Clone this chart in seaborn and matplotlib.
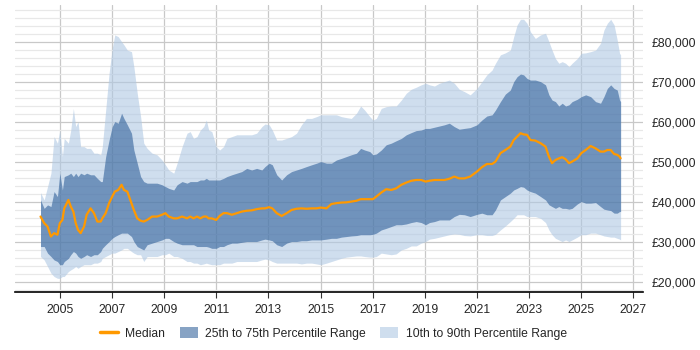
import numpy as np
import pandas as pd
import seaborn as sns
from matplotlib import pyplot as plt
from matplotlib.ticker import MultipleLocator, FuncFormatter
from matplotlib.lines import Line2D
from matplotlib.patches import Patch

# decimal years
year = [2004.26, 2004.40, 2004.53, 2004.66, 2004.78, 2004.91, 2005.00, 2005.10, 2005.17, 2005.33,
        2005.42, 2005.52, 2005.61, 2005.70, 2005.80, 2005.93, 2006.03, 2006.18, 2006.31, 2006.44,
        2006.57, 2006.63, 2006.76, 2006.89, 2007.01, 2007.11, 2007.24, 2007.37, 2007.46, 2007.59,
        2007.75, 2007.84, 2007.97, 2008.10, 2008.22, 2008.35, 2008.54, 2008.73, 2008.92, 2009.05,
        2009.18, 2009.37, 2009.50, 2009.69, 2009.88, 2010.00, 2010.13, 2010.26, 2010.39, 2010.52,
        2010.62, 2010.71, 2010.83, 2011.00, 2011.13, 2011.28, 2011.41, 2011.60, 2011.79, 2011.98,
        2012.17, 2012.36, 2012.55, 2012.75, 2012.87, 2013.03, 2013.15, 2013.32, 2013.51, 2013.70,
        2013.89, 2014.08, 2014.27, 2014.46, 2014.66, 2014.85, 2015.01, 2015.23, 2015.42, 2015.61,
        2015.80, 2015.99, 2016.18, 2016.38, 2016.54, 2016.69, 2016.89, 2017.01, 2017.14, 2017.33,
        2017.52, 2017.71, 2017.90, 2018.10, 2018.29, 2018.48, 2018.67, 2018.86, 2019.03, 2019.18,
        2019.37, 2019.56, 2019.75, 2019.94, 2020.13, 2020.32, 2020.52, 2020.74, 2021.00, 2021.19,
        2021.38, 2021.58, 2021.71, 2021.90, 2022.09, 2022.28, 2022.41, 2022.54, 2022.67, 2022.79,
        2022.92, 2023.05, 2023.24, 2023.44, 2023.63, 2023.76, 2023.88, 2024.01, 2024.14, 2024.27,
        2024.40, 2024.53, 2024.65, 2024.85, 2025.00, 2025.17, 2025.36, 2025.55, 2025.74, 2025.87,
        2026.00, 2026.13, 2026.26, 2026.38, 2026.47, 2026.51]

p90 = [42250, 40400, 43750, 47100, 56250, 54600, 57900, 51250, 55800, 54600,
       57900, 63300, 58750, 60000, 53750, 53750, 53300, 53300, 52100, 52100,
       51700, 53750, 62900, 72100, 78300, 81700, 81250, 80000, 79200, 77900,
       77500, 73750, 67100, 61250, 54600, 53300, 52100, 51700, 50400, 49200,
       47900, 47100, 49600, 53750, 57100, 57500, 55800, 56250, 57900, 58750,
       60400, 57900, 57500, 53750, 52900, 53750, 55800, 56250, 56700, 56700,
       56700, 56700, 57100, 58750, 59400, 59200, 57900, 55400, 55400, 55800,
       56250, 57100, 59200, 60800, 60800, 61250, 61700, 61700, 61700, 61700,
       61250, 61000, 60800, 62100, 63900, 62900, 61250, 60400, 60800, 63300,
       63750, 63900, 63900, 65400, 67100, 68100, 68600, 69200, 69600, 69200,
       68900, 69600, 70000, 70400, 69600, 68100, 67500, 66700, 68300, 70000,
       71700, 72900, 74600, 76700, 77200, 77900, 81250, 84200, 85600, 85600,
       84600, 82500, 80800, 81700, 82100, 80000, 77900, 75800, 74600, 75000,
       74600, 73750, 74600, 75800, 77100, 77200, 77500, 77900, 79600, 82900,
       84600, 85600, 84200, 80400, 77100, 76700]

p75 = [40400, 38300, 39170, 38750, 42500, 41250, 47100, 42900, 46250, 46700,
       47100, 46250, 47100, 46250, 47100, 46700, 47100, 46700, 46700, 45800,
       45000, 45000, 51250, 55400, 58750, 60000, 59600, 62100, 60800, 59200,
       57100, 52900, 49600, 46250, 45000, 44600, 44600, 44600, 44200, 43750,
       43300, 42900, 44200, 45000, 44600, 45000, 45000, 45000, 45400, 45400,
       45800, 45400, 45400, 45400, 45400, 45800, 46250, 46700, 47100, 47500,
       48300, 47900, 48300, 47900, 48750, 49600, 49200, 46700, 45400, 46700,
       47500, 47900, 48300, 48750, 49200, 49600, 50000, 49600, 49600, 50400,
       50800, 51250, 51700, 52100, 53300, 52900, 52500, 51700, 51900, 52900,
       54200, 54600, 55200, 55800, 56700, 57250, 57750, 57900, 58300, 58300,
       58600, 58900, 59200, 59600, 58750, 58100, 58300, 58500, 59200, 60400,
       61400, 61700, 62900, 65000, 66900, 67900, 70000, 71250, 71900, 71700,
       70800, 70400, 70400, 70000, 69200, 66700, 65400, 65000, 63900, 64600,
       63900, 64200, 65000, 65600, 66250, 66700, 66250, 65000, 64600, 66250,
       68300, 69200, 68300, 67900, 65400, 65000]

median = [36250, 34600, 33750, 31250, 32100, 31700, 34600, 35400, 38300, 40400,
          38750, 37500, 34600, 32900, 32100, 33750, 36700, 38300, 37100, 35000,
          35000, 35800, 37100, 39600, 41250, 42500, 42900, 44200, 42900, 42500,
          39600, 37900, 35800, 35200, 35000, 35400, 36250, 36250, 36700, 37100,
          36250, 35800, 35800, 36250, 35800, 36250, 35800, 36250, 35800, 36250,
          36250, 35800, 35800, 35400, 36400, 37100, 37100, 36700, 37100, 37500,
          37700, 37800, 38100, 38300, 38300, 38600, 38300, 37100, 36400, 37100,
          37900, 38200, 38300, 38200, 38300, 38300, 38500, 38300, 39400, 39600,
          39750, 39800, 40000, 40200, 40600, 40600, 40600, 40600, 41250, 42250,
          43100, 42900, 43300, 44200, 44750, 45200, 45400, 45400, 45000, 45200,
          45400, 45400, 45400, 45700, 46250, 45800, 45800, 46250, 47500, 48600,
          49400, 49400, 50000, 52100, 52900, 53750, 55400, 56250, 57100, 56800,
          56700, 55400, 55250, 54600, 53750, 51250, 49600, 50400, 50800, 51100,
          50600, 49600, 50000, 50800, 52100, 52900, 53900, 53300, 52500, 52500,
          52900, 52900, 51900, 51700, 51250, 50800]

p25 = [28750, 28750, 27100, 26250, 25400, 25000, 24200, 24200, 25000, 25800,
       26700, 27500, 27100, 26250, 25800, 26250, 26700, 26250, 26700, 26700,
       27500, 28300, 29200, 30000, 30800, 31250, 31700, 32100, 32100, 32100,
       31250, 30000, 28750, 28300, 27900, 29200, 29600, 30000, 30400, 30800,
       30800, 30000, 29600, 29200, 29200, 29200, 29200, 28750, 28750, 28750,
       28750, 28600, 28300, 28300, 28750, 28750, 29200, 29600, 29600, 29800,
       30000, 30000, 30000, 30400, 30600, 30400, 30200, 29200, 28750, 29600,
       30000, 30000, 30200, 30200, 30400, 30400, 30400, 30600, 30800, 30800,
       31100, 31250, 31400, 31500, 31700, 31700, 31700, 31800, 32100, 32900,
       33300, 33750, 34200, 34200, 34400, 34750, 35000, 34750, 34200, 34750,
       35000, 35400, 35400, 35400, 36250, 36800, 36700, 36250, 36800, 37100,
       36700, 36700, 37900, 40400, 41250, 42100, 42900, 43300, 43750, 43600,
       42900, 42500, 42100, 41250, 40400, 39200, 38750, 38300, 38750, 38300,
       38300, 38100, 38300, 39400, 40000, 39600, 39600, 39750, 38750, 38100,
       37900, 37750, 37100, 37100, 37500, 37500]

p10 = [26250, 25400, 23750, 22100, 21250, 20800, 20800, 21250, 21250, 22500,
       22900, 23300, 23750, 23300, 23750, 24200, 24200, 24200, 24600, 24600,
       25000, 25800, 26250, 26700, 27100, 27100, 27500, 27900, 28300, 28300,
       27500, 27100, 26700, 26700, 25000, 26250, 26250, 26250, 26700, 26700,
       27100, 26250, 26250, 25800, 25000, 25000, 24600, 24600, 24200, 24400,
       24600, 24400, 24200, 24200, 24200, 24600, 24600, 24600, 25000, 25000,
       25000, 25000, 25000, 25400, 25600, 25400, 25000, 24600, 24600, 24600,
       24600, 24600, 24400, 24600, 24600, 24400, 24200, 24600, 25000, 25400,
       25800, 26100, 26250, 26400, 26400, 26250, 26100, 26100, 26250, 27100,
       26900, 26700, 26900, 27900, 28300, 28900, 28900, 29600, 30000, 30600,
       30800, 31100, 31400, 31700, 31900, 31800, 31500, 31400, 31700, 31700,
       31500, 31500, 31800, 32900, 33900, 35000, 35800, 36700, 36700, 36700,
       36250, 36250, 36250, 35800, 34750, 32900, 31700, 30800, 30400, 30000,
       30400, 30000, 30400, 31100, 31700, 31700, 32100, 32100, 31700, 31400,
       31250, 31100, 31100, 30800, 30600, 30400]

df = pd.DataFrame({'year': year, 'p10': p10, 'p25': p25, 'median': median,
                   'p75': p75, 'p90': p90})

# semi-transparent bands so the grid shows through, as in the original
light = '#afc8e3'
light_alpha = 0.6
dark = '#1d5190'
dark_alpha = 0.53
orange = '#ff9900'

sns.set_style('white')
plt.rcParams['font.family'] = ['Liberation Sans', 'DejaVu Sans']

fig = plt.figure(figsize=(7, 3.5), dpi=100)
ax = fig.add_axes([0.021, 0.166, 0.898, 0.82])

ax.fill_between(df.year, df.p10, df.p90, color=light, alpha=light_alpha, linewidth=0, zorder=2)
ax.fill_between(df.year, df.p25, df.p75, color=dark, alpha=dark_alpha, linewidth=0, zorder=3)
sns.lineplot(data=df, x='year', y='median', color=orange, linewidth=1.6, ax=ax, zorder=4)

ax.set_xlim(2003.27, 2027.38)
ax.set_ylim(17400, 89200)
ax.set_xticks(np.arange(2005, 2028, 2))
ax.yaxis.set_major_locator(MultipleLocator(10000))
ax.yaxis.set_minor_locator(MultipleLocator(2000))
ax.yaxis.tick_right()
ax.yaxis.set_major_formatter(FuncFormatter(lambda v, p: '£{:,.0f}'.format(v)))

ax.grid(True, which='major', axis='both', color='#c8c8c8', linewidth=0.9, zorder=0)
ax.grid(True, which='minor', axis='y', color='#e8e8e8', linewidth=0.9, zorder=0)
ax.set_axisbelow(True)

for side in ['top', 'left', 'right']:
    ax.spines[side].set_visible(False)
ax.spines['bottom'].set_color('black')
ax.spines['bottom'].set_linewidth(1.2)

ax.tick_params(axis='x', length=4, color='#333333', labelsize=8.7, pad=5, bottom=True)
ax.tick_params(axis='y', which='both', length=0, labelsize=8.7, pad=6, right=False)
ax.set_xlabel('')
ax.set_ylabel('')

handles = [Line2D([0], [0], color=orange, linewidth=2.5),
           Patch(facecolor=dark, alpha=dark_alpha, edgecolor='none'),
           Patch(facecolor=light, alpha=light_alpha, edgecolor='none')]
labels = ['Median', '25th to 75th Percentile Range', '10th to 90th Percentile Range']
fig.legend(handles, labels, loc='center', bbox_to_anchor=(0.476, 0.048), ncol=3,
           frameon=False, fontsize=8.7, handlelength=1.5, handleheight=1.1,
           columnspacing=1.2, handletextpad=0.6)

plt.savefig('out.png', dpi=100)
